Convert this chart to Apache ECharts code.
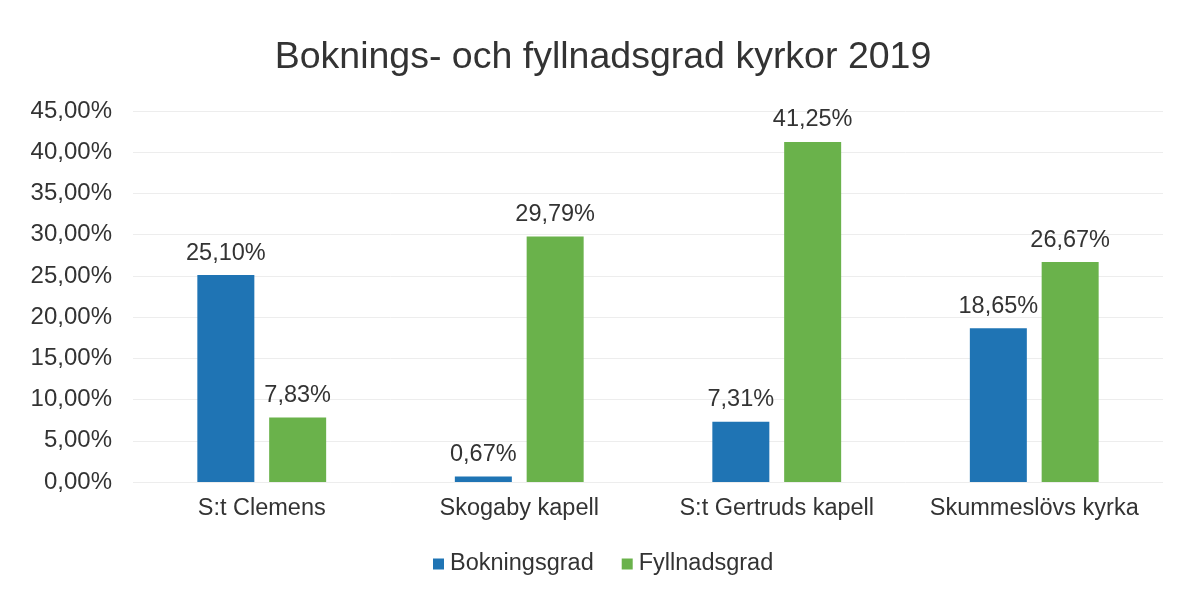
<!DOCTYPE html>
<html>
<head>
<meta charset="utf-8">
<script src="https://cdn.jsdelivr.net/npm/echarts@6/dist/echarts.min.js"></script>
<style>
html,body{margin:0;padding:0;background:#fff;}
#chart{width:1179px;height:591px;}
</style>
</head>
<body>
<div id="chart"></div>
<script>
const categories = ['S:t Clemens', 'Skogaby kapell', 'S:t Gertruds kapell', 'Skummeslövs kyrka'];
const bokningsgrad = [25.10, 0.67, 7.31, 18.65];
const fyllnadsgrad = [7.83, 29.79, 41.25, 26.67];
const seriesNames = ['Bokningsgrad', 'Fyllnadsgrad'];

const fmt = v => v.toFixed(2).replace('.', ',') + '%';
const font = 'Liberation Sans, Arial, sans-serif';
const textColor = '#333';

const chart = echarts.init(document.getElementById('chart'));
chart.setOption({
  backgroundColor: '#fff',
  animation: false,
  title: {
    text: 'Boknings- och fyllnadsgrad kyrkor 2019',
    left: 598, top: 34, textAlign: 'center',
    textStyle: { fontFamily: font, fontSize: 37.5, fontWeight: 'normal', color: textColor }
  },
  legend: {
    bottom: 10, left: 428, itemWidth: 11, itemHeight: 11, itemGap: 28,
    icon: 'rect',
    textStyle: { fontFamily: font, fontSize: 23.5, color: textColor, padding: [0, 0, 0, 1] },
    data: seriesNames
  },
  grid: { left: 133, right: 16, top: 111, bottom: 109, containLabel: false },
  xAxis: {
    type: 'category', data: categories,
    axisLine: { show: false }, axisTick: { show: false },
    axisLabel: { interval: 0, fontFamily: font, fontSize: 23.5, color: textColor, margin: 15 }
  },
  yAxis: {
    type: 'value', min: 0, max: 45, interval: 5,
    axisLabel: { fontFamily: font, fontSize: 24, color: textColor, margin: 21, formatter: fmt },
    splitLine: { lineStyle: { color: '#ededed', width: 1 } }
  },
  series: [
    {
      name: seriesNames[0], type: 'bar', data: bokningsgrad,
      barWidth: 57, barGap: '26%',
      itemStyle: { color: '#1f74b4' },
      label: { show: true, position: 'top', distance: 10, formatter: p => fmt(p.value),
        fontFamily: font, fontSize: 23.5, color: textColor }
    },
    {
      name: seriesNames[1], type: 'bar', data: fyllnadsgrad,
      barWidth: 57, barGap: '26%',
      itemStyle: { color: '#6ab24b' },
      label: { show: true, position: 'top', distance: 10, formatter: p => fmt(p.value),
        fontFamily: font, fontSize: 23.5, color: textColor }
    }
  ]
});
</script>
</body>
</html>
